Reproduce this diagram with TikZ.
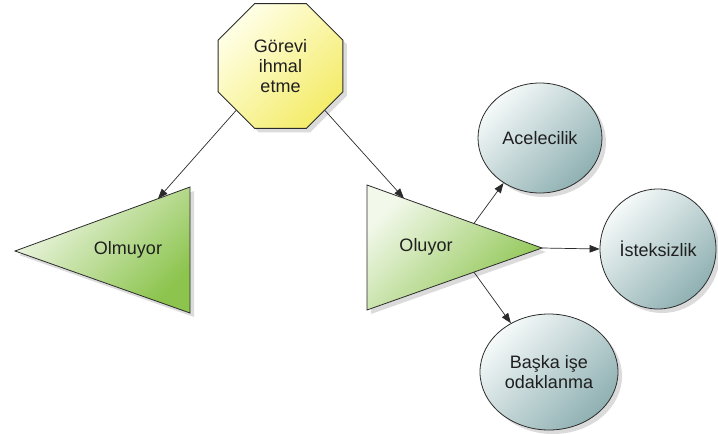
\documentclass[tikz,border=0pt]{standalone}
\usepackage{fontspec}
\setmainfont{Liberation Sans}
\usetikzlibrary{shapes.geometric,arrows.meta,shadows,calc}

\definecolor{octA}{HTML}{FFFFE6}
\definecolor{octM}{HTML}{FCF9B8}
\definecolor{octB}{HTML}{F4EC6A}
\definecolor{triA}{HTML}{F2F8EA}
\definecolor{triM}{HTML}{DAECC4}
\definecolor{triB}{HTML}{8CC44E}
\definecolor{bubA}{HTML}{F5F9F9}
\definecolor{bubM}{HTML}{E0EBEB}
\definecolor{bubB}{HTML}{8FB0B2}
\definecolor{edgeC}{HTML}{2B2B2B}

\begin{document}
\begin{tikzpicture}[x=1pt,y=-1pt,
  lbl/.style={font=\fontsize{18}{20}\selectfont, text=black!88, align=center},
  shad/.style={drop shadow={shadow xshift=4pt, shadow yshift=-4pt, opacity=0.14, fill=black}},
  octa/.style={regular polygon, regular polygon sides=8, minimum size=135pt,
    inner sep=0pt, draw=edgeC, line width=0.8pt,
    top color=octA, middle color=octM, bottom color=octB, shading angle=45, shad, lbl},
  tri/.style={draw=edgeC, line width=0.8pt, line join=miter,
    top color=triA, middle color=triM, bottom color=triB, shading angle=45, shad},
  bubble/.style={ellipse, inner sep=0pt, draw=edgeC, line width=0.8pt,
    top color=bubA, middle color=bubM, bottom color=bubB, shading angle=45, shad, lbl},
  link/.style={draw=edgeC, line width=0.7pt, -{Triangle[length=10pt,width=7.5pt]}}
]
\useasboundingbox (0,0) rectangle (718,434);

% decision octagon
\node[octa] (gorev) at (280.5,66) {Görevi\\ihmal\\etme};

% the two outcome triangles
\path[tri] (15,251) coordinate (lA) -- (190,187) coordinate (lB)
  -- (190,313) coordinate (lC) -- cycle;
\node[lbl] (olmuyor) at (128,250) {Olmuyor};

\path[tri] (367,185) coordinate (rA) -- (542,248) coordinate (rTip)
  -- (367,310) coordinate (rC) -- cycle;
\node[lbl] (oluyor) at (426,247) {Oluyor};

% consequences
\node[bubble, minimum width=124pt, minimum height=110pt] (acele) at (540,138) {Acelecilik};
\node[bubble, minimum width=116pt, minimum height=120pt] (istek) at (658,249) {İsteksizlik};
\node[bubble, minimum width=138pt, minimum height=116pt] (baska) at (549,372) {Başka işe\\odaklanma};

% attachment points on the triangle edges
\coordinate (olIn)  at ($(lA)!0.817!(lB)$);
\coordinate (ouIn)  at ($(rA)!0.211!(rTip)$);
\coordinate (ouUp)  at ($(rA)!0.611!(rTip)$);
\coordinate (ouDn)  at ($(rC)!0.611!(rTip)$);

% connectors
\draw[link] (gorev.225) -- (olIn);
\draw[link] (gorev.-45) -- (ouIn);
\draw[link] (ouUp) -- (acele.231);
\draw[link] (rTip) -- (istek.west);
\draw[link] (ouDn) -- (baska.128);
\end{tikzpicture}
\end{document}
